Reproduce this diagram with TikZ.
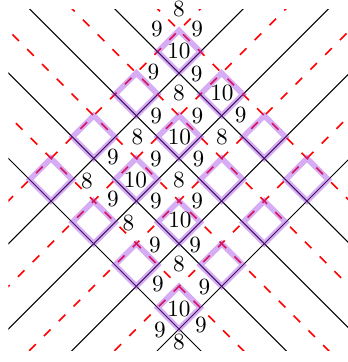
\documentclass[tikz,border=0pt]{standalone}
\definecolor{lav}{rgb}{0.6,0.2,0.9}
\begin{document}
\begin{tikzpicture}[x=0.43pt,y=-0.43pt,
  blackline/.style={black,line width=0.45pt},
  redline/.style={red,line width=0.7pt,dash pattern=on 4pt off 5pt},
  cell/.style={lav,opacity=0.4,line width=2.4pt,line join=miter},
  num/.style={inner sep=0pt,font=\normalsize}]
\useasboundingbox (0,0) rectangle (348,362);
\begin{scope}
\clip (8.3,9.3) rectangle (349.7,350);
\foreach \i in {0,1,2,3} {
  \pgfmathsetmacro\a{380+85.33*(\i-1.5)}
  \pgfmathsetmacro\b{-22+85.33*(\i-1.5)}
  \pgfmathsetmacro\ar{\a-42.67}
  \pgfmathsetmacro\br{\b+42.67}
  \draw[redline] (\ar-410,410) -- (\ar+10,-10);
  \draw[redline] (\br-10,-10) -- (\br+410,410);
  \draw[blackline] (\a-410,410) -- (\a+10,-10);
  \draw[blackline] (\b-10,-10) -- (\b+410,410);
}
\end{scope}
\foreach \i in {0,1,2,3} {
  \foreach \j in {0,1,2,3} {
    \pgfmathsetmacro\bx{179+42.67*(\i+\j-3)}
    \pgfmathsetmacro\by{201+42.67*(\i-\j)}
    \draw[cell] (\bx,\by) -- ++(-21.33,-21.33) -- ++(21.33,-21.33) -- ++(21.33,21.33) -- cycle;
  }
}
% eights
\node[num] (e1) at (179,9) {8};
\node[num] (e2) at (179,93.2) {8};
\node[num] (e3) at (137.5,137) {8};
\node[num] (e4) at (222,137) {8};
\node[num] (e5) at (179,180) {8};
\node[num] (e6) at (87,181) {8};
\node[num] (e7) at (128.5,223) {8};
\node[num] (e8) at (179,264.5) {8};
\node[num] (e9) at (179,342.5) {8};
% nines
\node[num] (g1) at (157,29) {9};
\node[num] (g2) at (197.3,29) {9};
\node[num] (g3) at (153.5,72.5) {9};
\node[num] (g4) at (196.8,74) {9};
\node[num] (g5) at (156.3,116) {9};
\node[num] (g6) at (197.5,115.7) {9};
\node[num] (g7) at (240.7,115) {9};
\node[num] (g8) at (113,157.5) {9};
\node[num] (g9) at (156,159) {9};
\node[num] (g10) at (198.5,159) {9};
\node[num] (g11) at (113,199.5) {9};
\node[num] (g12) at (156,201) {9};
\node[num] (g13) at (197.3,201) {9};
\node[num] (g14) at (155,245.5) {9};
\node[num] (g15) at (195.3,244.7) {9};
\node[num] (g16) at (158,284) {9};
\node[num] (g17) at (204.5,287.5) {9};
\node[num] (g18) at (160,330) {9};
\node[num] (g19) at (201,325) {9};
% tens
\node[num] (t1) at (179,51.5) {10};
\node[num] (t2) at (222,93.3) {10};
\node[num] (t3) at (179.5,137.5) {10};
\node[num] (t4) at (135.5,180) {10};
\node[num] (t5) at (180,220.5) {10};
\node[num] (t6) at (179,309) {10};
\end{tikzpicture}
\end{document}
